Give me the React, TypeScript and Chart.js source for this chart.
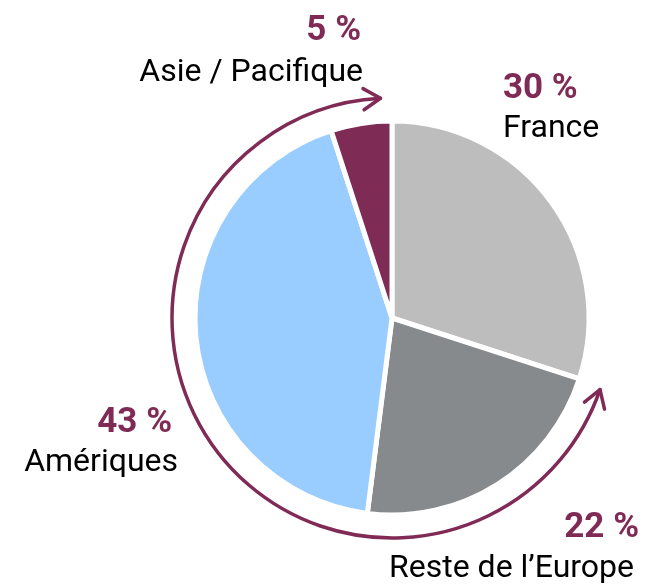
import React, { useEffect, useRef } from "react";
import { Chart, registerables } from "chart.js";

Chart.register(...registerables);

const categories = ["France", "Reste de l’Europe", "Amériques", "Asie / Pacifique"];
const shares = [30, 22, 43, 5];
const sliceColors = ["#bdbdbd", "#868a8c", "#99ccff", "#7e2b55"];
const accent = "#7f2b56";

// label anchors relative to pie centre
const labelLayout = [
  { px: 111, py: -220, nx: 111, ny: -181, align: "left" as CanvasTextAlign },
  { px: 247, py: 219, nx: 242, ny: 259, align: "right" as CanvasTextAlign },
  { px: -220, py: 114, nx: -214, ny: 153, align: "right" as CanvasTextAlign },
  { px: -31, py: -278, nx: -29, ny: -237, align: "right" as CanvasTextAlign },
];

const overlayPlugin = {
  id: "overlay",
  afterDatasetsDraw(chart: any) {
    const meta = chart.getDatasetMeta(0);
    const arc = meta.data[0];
    if (!arc) return;
    const cx = arc.x;
    const cy = arc.y;
    const ctx = chart.ctx as CanvasRenderingContext2D;
    ctx.save();
    // arc arrow
    const R = 220;
    const a1 = (19 * Math.PI) / 180;
    const a2 = (267 * Math.PI) / 180;
    ctx.strokeStyle = accent;
    ctx.lineWidth = 3.5;
    ctx.lineCap = "round";
    ctx.lineJoin = "round";
    ctx.beginPath();
    ctx.arc(cx, cy, R, a1, a2, false);
    ctx.stroke();
    const head = (theta: number, dirX: number, dirY: number) => {
      const tx = cx + R * Math.cos(theta);
      const ty = cy + R * Math.sin(theta);
      const L = 20;
      const spread = (32 * Math.PI) / 180;
      const back = Math.atan2(-dirY, -dirX);
      ctx.beginPath();
      ctx.moveTo(tx + L * Math.cos(back + spread), ty + L * Math.sin(back + spread));
      ctx.lineTo(tx, ty);
      ctx.lineTo(tx + L * Math.cos(back - spread), ty + L * Math.sin(back - spread));
      ctx.stroke();
    };
    head(a2, -Math.sin(a2), Math.cos(a2));
    head(a1, Math.sin(a1), -Math.cos(a1));

    // labels
    ctx.textBaseline = "alphabetic";
    categories.forEach((name, i) => {
      const l = labelLayout[i];
      ctx.textAlign = l.align;
      ctx.fillStyle = accent;
      ctx.font = "bold 35px Roboto";
      ctx.fillText(`${shares[i]} %`, cx + l.px, cy + l.py);
      ctx.fillStyle = "#000000";
      ctx.font = "32px Roboto";
      ctx.fillText(name, cx + l.nx, cy + l.ny);
    });
    ctx.restore();
  },
};

export default function App() {
  const ref = useRef<HTMLCanvasElement | null>(null);
  useEffect(() => {
    if (!ref.current) return;
    const chart = new Chart(ref.current, {
      type: "pie",
      data: {
        labels: categories,
        datasets: [
          {
            data: shares,
            backgroundColor: sliceColors,
            borderColor: "#ffffff",
            borderWidth: 5,
            hoverOffset: 0,
          },
        ],
      },
      options: {
        animation: false,
        responsive: false,
        events: [],
        radius: 197,
        layout: { padding: { left: 192, right: 54, top: 118, bottom: 66 } },
        plugins: { legend: { display: false }, tooltip: { enabled: false } },
      } as any,
      plugins: [overlayPlugin],
    });
    return () => chart.destroy();
  }, []);
  return (
    <div style={{ position: "fixed", left: 0, top: 0, width: 646, height: 584, background: "#fff" }}>
      <canvas ref={ref} width={646} height={584} style={{ width: 646, height: 584 }} />
    </div>
  );
}
